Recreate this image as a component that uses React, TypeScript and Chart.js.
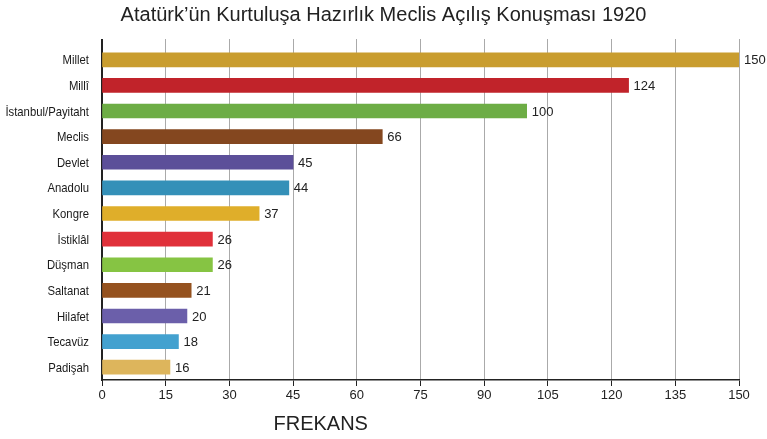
import React, { useEffect, useRef } from "react";
import { Chart, registerables } from "chart.js";

Chart.register(...registerables);

const titleText = "Atatürk’ün Kurtuluşa Hazırlık Meclis Açılış Konuşması 1920";
const axisTitle = "FREKANS";
const categories = [
  "Millet",
  "Millî",
  "İstanbul/Payitaht",
  "Meclis",
  "Devlet",
  "Anadolu",
  "Kongre",
  "İstiklâl",
  "Düşman",
  "Saltanat",
  "Hilafet",
  "Tecavüz",
  "Padişah",
];
const frequencies = [150, 124, 100, 66, 45, 44, 37, 26, 26, 21, 20, 18, 16];
const barColors = [
  "#C99D2F",
  "#C1232A",
  "#6DAD45",
  "#84471F",
  "#5C4F99",
  "#3490B8",
  "#DFAE2A",
  "#E0303A",
  "#86C443",
  "#95521F",
  "#6B5FAA",
  "#43A1CF",
  "#DDB55C",
];
const xTicks = [0, 15, 30, 45, 60, 75, 90, 105, 120, 135, 150];

const SANS = "'Liberation Sans', Arial, Helvetica, sans-serif";

const alignPx = (p: number, w: number) => Math.round(p - w / 2) + w / 2;

const extrasPlugin = {
  id: "extras",
  beforeDatasetsDraw(chart: any) {
    const { ctx, chartArea, scales } = chart;
    ctx.save();
    ctx.strokeStyle = "#aaaaaa";
    ctx.lineWidth = 1;
    xTicks.forEach((t) => {
      if (t === 0) return;
      const x = alignPx(scales.x.getPixelForValue(t), 1);
      ctx.beginPath();
      ctx.moveTo(x, chartArea.top - 8);
      ctx.lineTo(x, chartArea.top);
      ctx.stroke();
    });
    ctx.strokeStyle = "#222222";
    ctx.lineWidth = 2;
    const x0 = alignPx(scales.x.getPixelForValue(0), 2);
    ctx.beginPath();
    ctx.moveTo(x0, chartArea.top - 8);
    ctx.lineTo(x0, chartArea.top);
    ctx.stroke();
    ctx.restore();
  },
  afterDatasetsDraw(chart: any) {
    const { ctx, scales, chartArea } = chart;
    const meta = chart.getDatasetMeta(0);
    ctx.save();
    // value labels
    ctx.font = "13px " + SANS;
    ctx.fillStyle = "#222222";
    ctx.textAlign = "left";
    ctx.textBaseline = "middle";
    meta.data.forEach((bar: any, i: number) => {
      ctx.fillText(String(frequencies[i]), bar.x + 5, bar.y + 1);
    });
    // category labels (condensed)
    const labelRight = chartArea.left - 13;
    ctx.font = "13px " + SANS;
    ctx.fillStyle = "#1a1a1a";
    ctx.textAlign = "right";
    ctx.textBaseline = "middle";
    categories.forEach((c, i) => {
      const y = scales.y.getPixelForValue(i);
      ctx.save();
      ctx.translate(labelRight, y + 1);
      ctx.scale(0.87, 1);
      ctx.fillText(c, 0, 0);
      ctx.restore();
    });
    // axis title
    ctx.fillStyle = "#222222";
    ctx.font = "20px " + SANS;
    ctx.textAlign = "center";
    ctx.textBaseline = "middle";
    ctx.fillText(axisTitle, scales.x.getPixelForValue(51.5), 424);
    // chart title
    ctx.fillText(titleText, chart.width / 2, 15);
    ctx.restore();
  },
};

export default function App() {
  const ref = useRef<HTMLCanvasElement>(null);
  useEffect(() => {
    if (!ref.current) return;
    const chart = new Chart(ref.current, {
      type: "bar",
      data: {
        labels: categories,
        datasets: [
          {
            data: frequencies,
            backgroundColor: barColors,
            borderWidth: 0,
            barThickness: 14,
          },
        ],
      },
      plugins: [extrasPlugin],
      options: {
        indexAxis: "y",
        animation: false,
        responsive: false,
        maintainAspectRatio: false,
        layout: { padding: { left: 0, right: 28, top: 47, bottom: 0 } },
        plugins: {
          legend: { display: false },
          tooltip: { enabled: false },
          title: { display: false },
        },
        scales: {
          x: {
            type: "linear",
            min: 0,
            max: 150,
            afterBuildTicks(scale: any) {
              scale.ticks = xTicks.map((v) => ({ value: v }));
            },
            afterFit(scale: any) {
              scale.height = 59;
            },
            ticks: {
              color: "#222222",
              font: { family: SANS, size: 13 },
              padding: 2,
              maxRotation: 0,
            },
            grid: {
              color: "#aaaaaa",
              lineWidth: 1,
              tickColor: "#222222",
              tickLength: 6,
              drawTicks: true,
            },
            border: { display: true, color: "#222222", width: 1.5 },
          },
          y: {
            afterFit(scale: any) {
              scale.width = 102;
            },
            ticks: { display: false },
            grid: { display: false, drawTicks: false },
            border: { display: true, color: "#222222", width: 2 },
          },
        },
      },
    });
    return () => chart.destroy();
  }, []);
  return (
    <div style={{ position: "absolute", left: 0, top: 0, width: 767, height: 439, background: "#fff" }}>
      <canvas ref={ref} width={767} height={439} style={{ display: "block" }} />
    </div>
  );
}
